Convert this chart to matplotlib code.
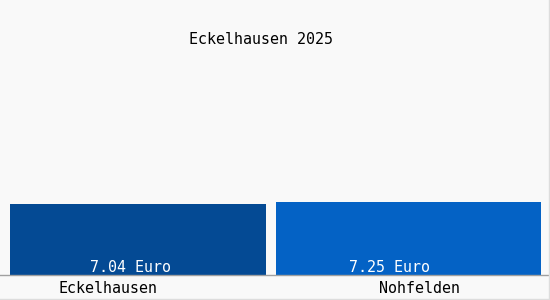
import matplotlib.pyplot as plt
from matplotlib.lines import Line2D

# Data
places = ['Eckelhausen', 'Nohfelden']
prices = [7.04, 7.25]
value_labels = ['7.04 Euro', '7.25 Euro']
title = 'Eckelhausen 2025'
bar_colors = ['#044a94', '#0462c5']

plt.rcParams['font.family'] = ['DejaVu Sans Mono']

fig = plt.figure(figsize=(5.5, 3.0), dpi=100, facecolor='#f9f9f9')
ax = fig.add_axes([10 / 550, 25 / 300, 531 / 550, 275 / 300])
ax.set_facecolor('#f9f9f9')

lefts = [0, 1]
widths = [0.965, 1.0]
ax.bar(lefts, prices, width=widths, align='edge', color=bar_colors)
ax.set_xlim(0, 2)
ax.set_ylim(0, 27.3)
ax.axis('off')

# value labels inside bars, near the base
for i, lab in enumerate(value_labels):
    off = [0.452, 0.431][i]
    ax.text(lefts[i] + off, 0.7, lab, ha='center', va='center', color='white', fontsize=10.8)

# category labels under the axis
for i, name in enumerate(places):
    off = [0.369, 0.544][i]
    ax.text(lefts[i] + off, -1.3, name, ha='center', va='center', color='black',
            fontsize=10.8, clip_on=False)

fig.text(261 / 550, 1 - 40 / 300, title, ha='center', va='center', fontsize=10.8)

# baseline and frame
fig.add_artist(Line2D([0, 1], [25 / 300, 25 / 300], color='#a0a0a0', lw=1))
fig.add_artist(Line2D([548.5 / 550, 548.5 / 550], [0, 1], color='#dddddd', lw=1))
fig.add_artist(Line2D([0, 1], [1.5 / 300, 1.5 / 300], color='#dddddd', lw=1))

fig.savefig('out.png', dpi=100, facecolor=fig.get_facecolor())
